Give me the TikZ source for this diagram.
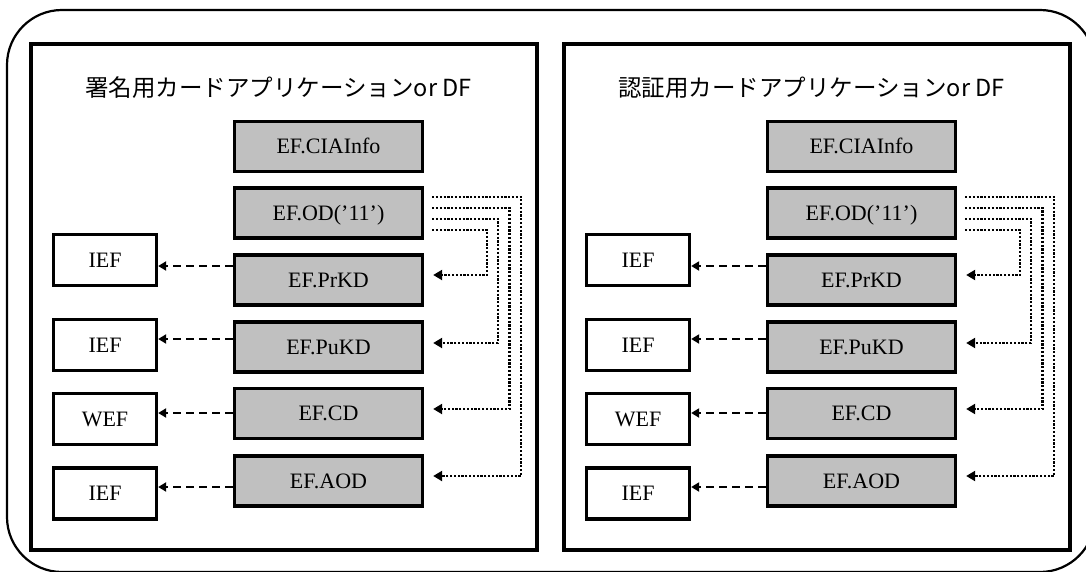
\documentclass[tikz,border=0pt]{standalone}
\usepackage{fontspec}
\setmainfont{Liberation Serif}
\newfontfamily\jpfont{Noto Sans CJK JP}
\usetikzlibrary{arrows.meta}
\definecolor{boxgray}{HTML}{C0C0C0}

\tikzset{
  outerframe/.style={draw, line width=2.2pt, rounded corners=55pt},
  panelbox/.style={draw, line width=3.6pt, minimum width=506pt, minimum height=506pt, inner sep=0pt},
  titletext/.style={font=\jpfont\fontsize{23.5}{28}\selectfont, inner sep=0pt},
  efbox/.style={draw, line width=3.3pt, fill=boxgray, minimum width=188pt, minimum height=50pt,
    inner sep=0pt, font=\fontsize{22}{26}\selectfont, text height=14.5pt, text depth=0pt},
  filebox/.style={draw, line width=3.3pt, fill=white, minimum width=103pt, minimum height=51pt,
    inner sep=0pt, font=\fontsize{22}{26}\selectfont, text height=14.5pt, text depth=0pt},
  linkarrow/.style={line width=2pt, dash pattern=on 8pt off 5pt, -{Triangle[length=8pt,width=9pt]}},
  refarrow/.style={line width=2.6pt, dash pattern=on 2.2pt off 1.6pt, -{Triangle[length=9pt,width=10pt]}},
}

% one card application: title, EF boxes, file links and the EF.OD references
\newcommand\cardpanel[1]{%
  \node[panelbox] (frame) at (283.75,297.25) {};
  \node[titletext] (title) at (278.5,88) {#1};
  \node[efbox] (cia)  at (328.5,146.5) {EF.CIAInfo};
  \node[efbox] (od)   at (328.5,213)   {EF.OD('11')};
  \node[efbox] (prkd) at (328.5,280)   {EF.PrKD};
  \node[efbox] (pukd) at (328.5,347)   {EF.PuKD};
  \node[efbox] (cd)   at (328.5,413.5) {EF.CD};
  \node[efbox] (aod)  at (328.5,481)   {EF.AOD};
  \node[filebox] (ief1) at (105,260)   {IEF};
  \node[filebox] (ief2) at (105,345)   {IEF};
  \node[filebox] (wef)  at (105,419)   {WEF};
  \node[filebox] (ief3) at (105,493.5) {IEF};
  % heights of the dashed links
  \coordinate (l1) at (0,266);
  \coordinate (l2) at (0,339);
  \coordinate (l3) at (0,413);
  \coordinate (l4) at (0,487);
  \draw[linkarrow] (prkd.west |- l1) -- (ief1.east |- l1);
  \draw[linkarrow] (pukd.west |- l2) -- (ief2.east |- l2);
  \draw[linkarrow] (cd.west   |- l3) -- (wef.east  |- l3);
  \draw[linkarrow] (aod.west  |- l4) -- (ief3.east |- l4);
  % references leaving EF.OD
  \coordinate (s1) at (0,230);
  \coordinate (s2) at (0,219);
  \coordinate (s3) at (0,208);
  \coordinate (s4) at (0,197);
  \coordinate (t1) at (0,275);
  \coordinate (t2) at (0,343);
  \coordinate (t3) at (0,409);
  \coordinate (t4) at (0,476);
  \path ([xshift=8pt]od.east) coordinate (odx)
        ([xshift=63pt]od.east) coordinate (v1)
        ([xshift=74pt]od.east) coordinate (v2)
        ([xshift=85.5pt]od.east) coordinate (v3)
        ([xshift=97pt]od.east) coordinate (v4);
  \path ([xshift=9pt]prkd.east) coordinate (e1)
        ([xshift=9pt]pukd.east) coordinate (e2)
        ([xshift=9pt]cd.east) coordinate (e3)
        ([xshift=9pt]aod.east) coordinate (e4);
  \draw[refarrow] (odx |- s1) -| (v1 |- t1) -- (e1 |- t1);
  \draw[refarrow] (odx |- s2) -| (v2 |- t2) -- (e2 |- t2);
  \draw[refarrow] (odx |- s3) -| (v3 |- t3) -- (e3 |- t3);
  \draw[refarrow] (odx |- s4) -| (v4 |- t4) -- (e4 |- t4);
}

\begin{document}
\begin{tikzpicture}[x=1pt,y=-1pt]
  \useasboundingbox (0,0) rectangle (1086,572);
  \clip (0,0) rectangle (1086,572);
  \draw[outerframe] (7,10) rectangle (1095,572);
  \begin{scope}[name prefix=sign-]
    \cardpanel{署名用カードアプリケーションor DF}
  \end{scope}
  \begin{scope}[xshift=533pt, name prefix=auth-]
    \cardpanel{認証用カードアプリケーションor DF}
  \end{scope}
\end{tikzpicture}
\end{document}
